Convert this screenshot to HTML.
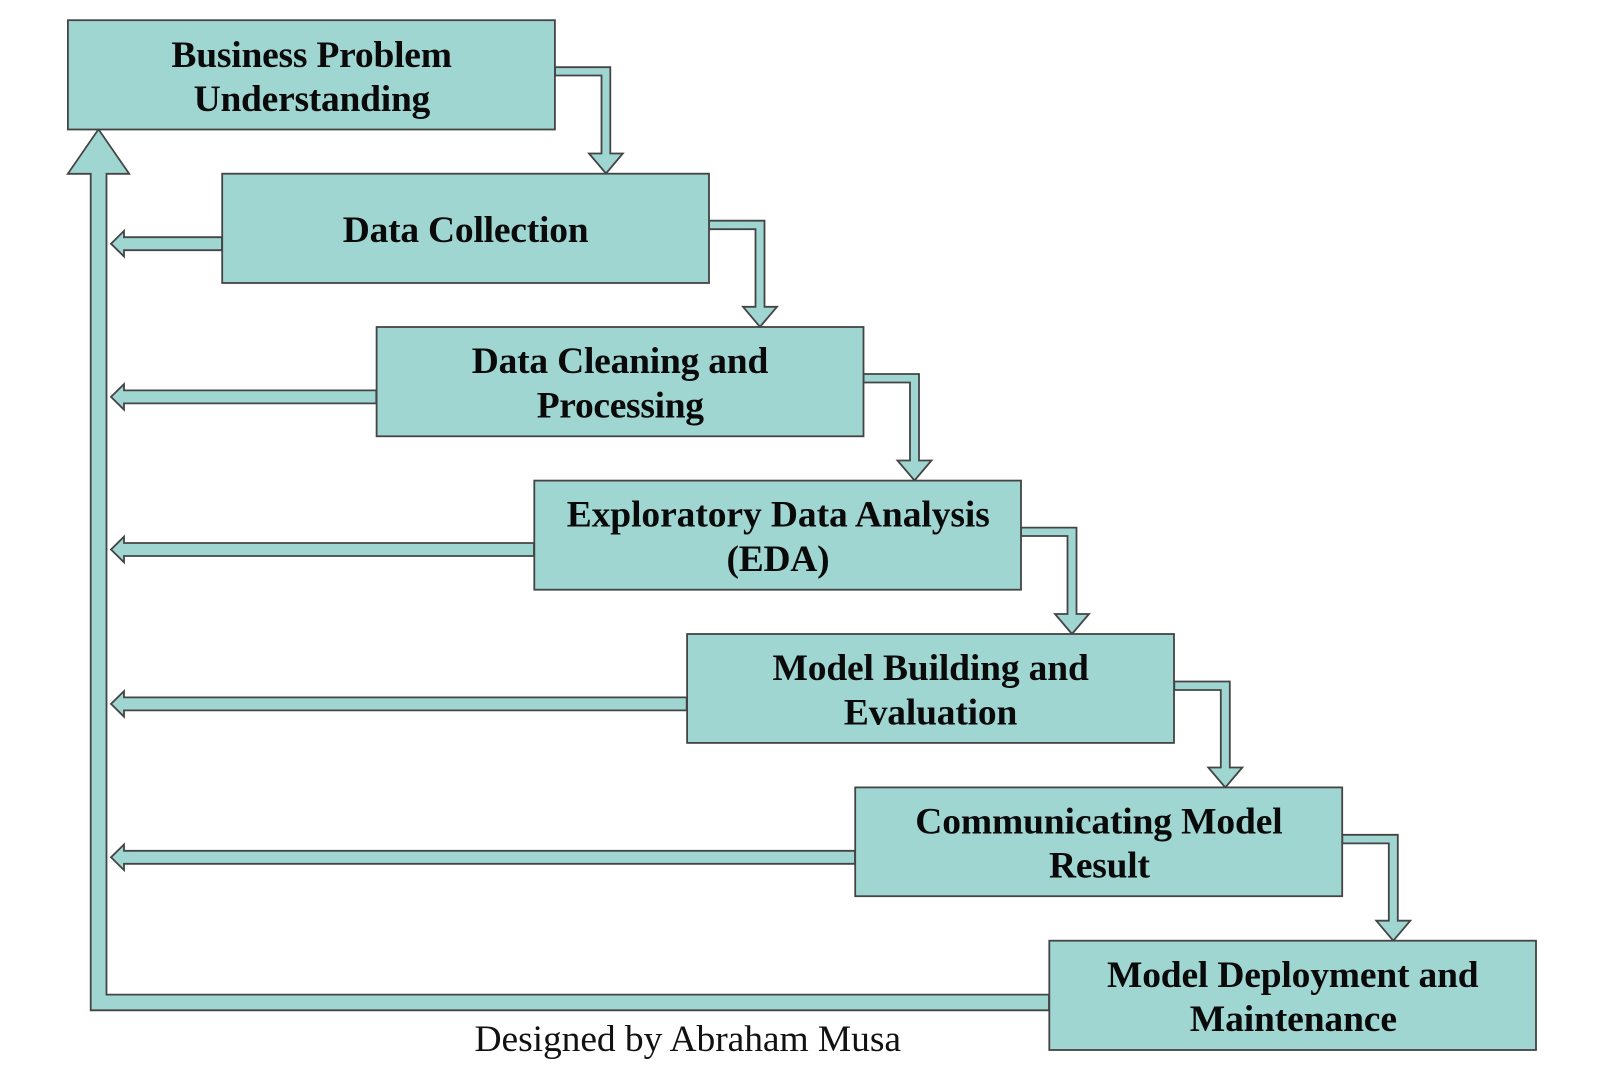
<!DOCTYPE html>
<html>
<head>
<meta charset="utf-8">
<style>
html,body{margin:0;padding:0;background:#fff;width:1600px;height:1068px;overflow:hidden}
svg{display:block}
.s{fill:#9fd6d2;stroke:#444;stroke-width:1.8;stroke-linejoin:miter}
.t{font-family:"Liberation Serif",serif;font-weight:bold;font-size:37.5px;fill:#0a0a0a}
.c{font-family:"Liberation Serif",serif;font-size:37.5px;fill:#111}
</style>
</head>
<body>
<svg width="1600" height="1068" viewBox="0 0 1600 1068" xmlns="http://www.w3.org/2000/svg">
<polygon class="s" points="1049,994.6 106.5,994.6 106.5,173.8 129.2,173.8 98.5,129.3 67.8,173.8 90.7,173.8 90.7,1010.3 1049,1010.3"/>
<polygon class="s" points="222,237.2 124,237.2 124,230.9 111,243.7 124,256.5 124,250.2 222,250.2"/>
<polygon class="s" points="376.3,390.4 124,390.4 124,384.1 111,396.9 124,409.7 124,403.4 376.3,403.4"/>
<polygon class="s" points="534,543 124,543 124,536.7 111,549.5 124,562.3 124,556 534,556"/>
<polygon class="s" points="686.7,697.4 124,697.4 124,691.1 111,703.9 124,716.7 124,710.4 686.7,710.4"/>
<polygon class="s" points="855,850.8 124,850.8 124,844.5 111,857.3 124,870.1 124,863.8 855,863.8"/>
<polygon class="s" points="555,67.2 610.3,67.2 610.3,153.5 622.8,153.5 606,173.5 589,153.5 601.5,153.5 601.5,75.5 555,75.5"/>
<polygon class="s" points="709,220.7 764.5,220.7 764.5,306.8 777,306.8 760,326.8 743,306.8 755.5,306.8 755.5,229.2 709,229.2"/>
<polygon class="s" points="863.5,374 919,374 919,460.5 931.5,460.5 914.5,480.5 897.5,460.5 910,460.5 910,382.5 863.5,382.5"/>
<polygon class="s" points="1021,527.6 1076.5,527.6 1076.5,614 1089,614 1072,634 1055,614 1067.5,614 1067.5,536 1021,536"/>
<polygon class="s" points="1174.3,681.5 1229.8,681.5 1229.8,767.5 1242.3,767.5 1225.3,787.5 1208.3,767.5 1220.8,767.5 1220.8,690 1174.3,690"/>
<polygon class="s" points="1342.3,834.8 1397.8,834.8 1397.8,920.7 1410.3,920.7 1393.3,940.7 1376.3,920.7 1388.8,920.7 1388.8,843.4 1342.3,843.4"/>
<rect class="s" x="67.9" y="20.2" width="487" height="109.3"/>
<rect class="s" x="222.2" y="173.7" width="486.8" height="109.3"/>
<rect class="s" x="376.6" y="327" width="486.9" height="109.3"/>
<rect class="s" x="534.3" y="480.6" width="486.7" height="109.1"/>
<rect class="s" x="687.1" y="634" width="486.9" height="108.9"/>
<rect class="s" x="855.2" y="787.4" width="487" height="108.8"/>
<rect class="s" x="1049.3" y="940.7" width="486.7" height="109.3"/>
<text class="t" x="171.4" y="67" textLength="280.6" lengthAdjust="spacing">Business Problem</text>
<text class="t" x="193.6" y="111" textLength="236.7" lengthAdjust="spacing">Understanding</text>
<text class="t" x="342.7" y="242" textLength="245.9" lengthAdjust="spacing">Data Collection</text>
<text class="t" x="471.7" y="373" textLength="296.6" lengthAdjust="spacing">Data Cleaning and</text>
<text class="t" x="536.7" y="417.3" textLength="167.3" lengthAdjust="spacing">Processing</text>
<text class="t" x="566.7" y="526.5" textLength="423.1" lengthAdjust="spacing">Exploratory Data Analysis</text>
<text class="t" x="726.5" y="571" textLength="103.1" lengthAdjust="spacing">(EDA)</text>
<text class="t" x="772.5" y="680" textLength="316.3" lengthAdjust="spacing">Model Building and</text>
<text class="t" x="843.9" y="724.5" textLength="173.4" lengthAdjust="spacing">Evaluation</text>
<text class="t" x="915.3" y="833.5" textLength="367.4" lengthAdjust="spacing">Communicating Model</text>
<text class="t" x="1049" y="877.5" textLength="101" lengthAdjust="spacing">Result</text>
<text class="t" x="1107" y="987" textLength="371.6" lengthAdjust="spacing">Model Deployment and</text>
<text class="t" x="1189.8" y="1031" textLength="207.2" lengthAdjust="spacing">Maintenance</text>
<text class="c" x="474.5" y="1051" textLength="426.5" lengthAdjust="spacing">Designed by Abraham Musa</text>
</svg>
</body>
</html>
